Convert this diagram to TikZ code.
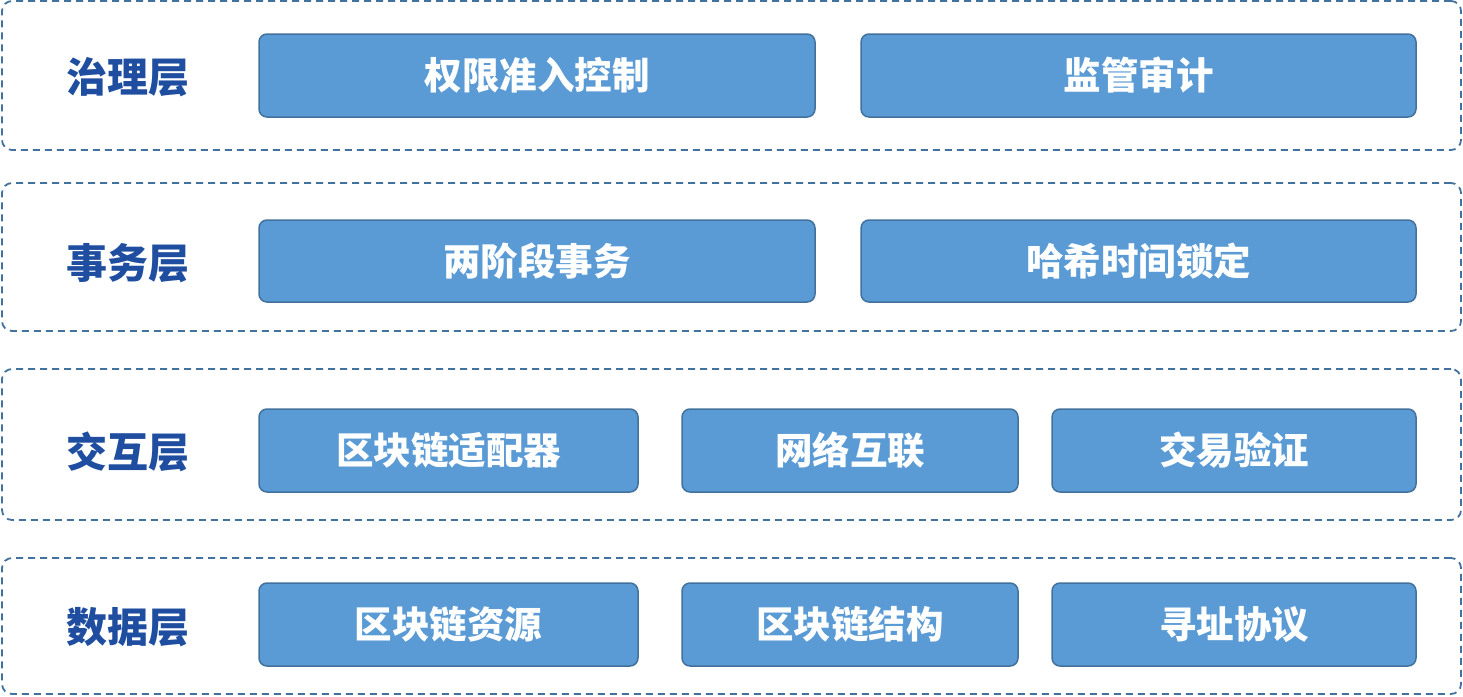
\documentclass[tikz,border=0pt]{standalone}
\usepackage{fontspec}
\setmainfont{Noto Sans CJK SC}
\usepackage{tikz}
\definecolor{boxblue}{RGB}{91,155,213}
\definecolor{boxline}{RGB}{65,113,156}
\definecolor{labelblue}{RGB}{31,78,160}
\tikzset{
  layer/.style={draw=boxline, line width=1.8pt, dash pattern=on 7pt off 5pt, rounded corners=10pt, inner sep=0pt},
  item/.style={draw=boxline, fill=boxblue, line width=1.5pt, rounded corners=8pt, inner sep=0pt, text=white, font=\bfseries\fontsize{37.5}{40}\selectfont},
  layername/.style={text=labelblue, font=\bfseries\fontsize{41}{44}\selectfont}
}
\begin{document}
\begin{tikzpicture}[x=1pt,y=-1pt]
\useasboundingbox (0,0) rectangle (1463,696);
% layers
\node[layer, minimum width=1459pt, minimum height=149pt] (gov) at (731.5,75.5) {};
\node[layer, minimum width=1459pt, minimum height=148pt] (txn) at (731.5,257) {};
\node[layer, minimum width=1459pt, minimum height=151pt] (inter) at (731.5,444.5) {};
\node[layer, minimum width=1459pt, minimum height=136pt] (data) at (731.5,626) {};
% layer names
\node[layername] (govname) at (128,77) {治理层};
\node[layername] (txnname) at (128,263) {事务层};
\node[layername] (intername) at (128,452) {交互层};
\node[layername] (dataname) at (128,627) {数据层};
% governance
\node[item, minimum width=556pt, minimum height=83pt] (access) at (537,75.5) {权限准入控制};
\node[item, minimum width=555pt, minimum height=83pt] (audit) at (1138.5,75.5) {监管审计};
% transaction
\node[item, minimum width=556pt, minimum height=82pt] (twopc) at (537,261) {两阶段事务};
\node[item, minimum width=555pt, minimum height=82pt] (htlc) at (1138.5,261) {哈希时间锁定};
% interaction
\node[item, minimum width=379pt, minimum height=83pt] (adapter) at (448.5,450.5) {区块链适配器};
\node[item, minimum width=336pt, minimum height=83pt] (net) at (850,450.5) {网络互联};
\node[item, minimum width=364pt, minimum height=83pt] (verify) at (1234,450.5) {交易验证};
% data
\node[item, minimum width=379pt, minimum height=83pt] (res) at (448.5,624.5) {区块链资源};
\node[item, minimum width=336pt, minimum height=83pt] (struct) at (850,624.5) {区块链结构};
\node[item, minimum width=364pt, minimum height=83pt] (addr) at (1234,624.5) {寻址协议};
\end{tikzpicture}
\end{document}
